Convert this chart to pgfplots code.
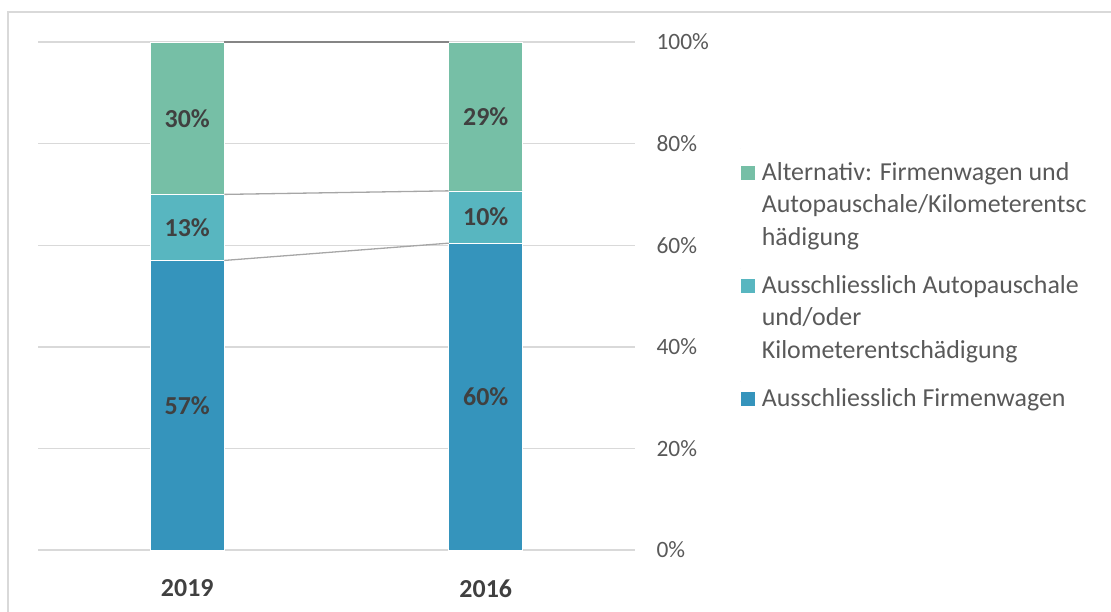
\documentclass[border=0pt]{standalone}
\usepackage{fontspec}
\setmainfont{Carlito}
\usepackage{pgfplots}
\usepackage{pgfplotstable}
\pgfplotsset{compat=1.18}
\definecolor{cBlue}{HTML}{3594BC}
\definecolor{cTeal}{HTML}{58B6C0}
\definecolor{cGreen}{HTML}{76BFA6}
\definecolor{gridc}{HTML}{D9D9D9}
\definecolor{sline}{HTML}{A6A6A6}
\definecolor{tickc}{HTML}{595959}
\definecolor{labc}{HTML}{404040}

\pgfplotstableread{
x blue teal green
0 57   13   30
1 60.4 10.3 29.3
}\shares

\pgfplotstableread{
x y lab
0 28.5  57
0 63.5  13
0 85    30
1 30.2  60
1 65.55 10
1 85.35 29
}\labels

\begin{document}
\begin{tikzpicture}
\path[use as bounding box] (0bp,0bp) rectangle (1111bp,-612bp);
\draw[gridc, line width=1.3bp] (8bp,-700bp) -- (8bp,-12bp) -- (1200bp,-12bp);
\begin{axis}[
  at={(38bp,-550bp)}, anchor=south west,
  scale only axis, width=597bp, height=508bp,
  ybar stacked, bar width=74bp,
  xmin=-0.5, xmax=1.5, ymin=0, ymax=100,
  xtick=data, xticklabels={2019,2016},
  ytick={0,20,...,100},
  yticklabel={\pgfmathprintnumber{\tick}\%},
  yticklabel pos=right,
  major tick length=0pt,
  axis line style={draw=none},
  ymajorgrids, grid style={gridc, line width=1.4bp},
  xticklabel style={font=\fontsize{26}{30}\selectfont\bfseries, text=labc, yshift=-26bp},
  yticklabel style={font=\fontsize{23.5}{28}\selectfont, text=tickc, anchor=west, xshift=18bp},
  /pgf/number format/assume math mode=true,
  reverse legend,
  legend image code/.code={\path (0bp,0bp) -- (0bp,7bp); \fill[#1] (0bp,-24.5bp) rectangle (15bp,-9.5bp);},
  legend style={at={(1.176,0.7913)}, anchor=north west, draw=none, fill=none,
    inner sep=0pt, row sep=12.5bp, column sep=4bp,
    font=\fontsize{26}{32.5}\selectfont, text=tickc,
    cells={anchor=north west, inner sep=0pt}},
]
\addplot[fill=cBlue, draw=white, line width=0.6bp] table[x=x, y=blue] {\shares};
\addlegendentry{\parbox[b]{340bp}{\strut Ausschliesslich Firmenwagen\strut}}
\addplot[fill=cTeal, draw=white, line width=0.6bp] table[x=x, y=teal] {\shares};
\addlegendentry{\parbox[b]{340bp}{\strut Ausschliesslich Autopauschale\\und/oder\\Kilometerentschädigung\strut}}
\addplot[fill=cGreen, draw=white, line width=0.6bp] table[x=x, y=green] {\shares};
\addlegendentry{\parbox[b]{340bp}{\strut Alternativ: Firmenwagen und\\Autopauschale/Kilometerentsc\\hädigung\strut}}
\end{axis}
\begin{axis}[
  at={(38bp,-550bp)}, anchor=south west,
  scale only axis, width=597bp, height=508bp,
  xmin=-0.5, xmax=1.5, ymin=0, ymax=100,
  hide axis, clip=false,
]
\addplot[sline, line width=1.3bp] coordinates {(0.124,57) (0.876,60.4)};
\addplot[sline, line width=1.3bp] coordinates {(0.124,70) (0.876,70.7)};
\addplot[sline!80!black, line width=1.3bp] coordinates {(0.124,100) (0.876,100)};
\addplot[only marks, mark=none, point meta=explicit,
  nodes near coords={\pgfmathprintnumber{\pgfplotspointmeta}\%},
  nodes near coords style={anchor=center, font=\fontsize{26}{30}\selectfont\bfseries, text=labc},
  /pgf/number format/assume math mode=true]
  table[x=x, y=y, meta=lab] {\labels};
\end{axis}
\end{tikzpicture}
\end{document}
